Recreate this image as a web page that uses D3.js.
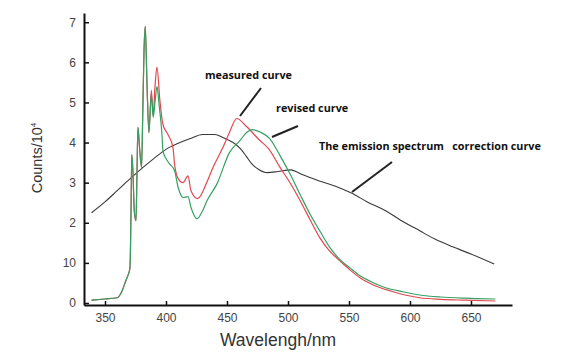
<!DOCTYPE html>
<html><head><meta charset="utf-8">
<script src="https://cdn.jsdelivr.net/npm/d3@7"></script>
<style>body{margin:0;background:#fff}svg{display:block}</style>
</head><body><svg id="c" width="572" height="358"></svg>
<script>
// Data (wavelength nm, counts/10^4)
const correctionWl = [339,350,360,370,380,390,400,410,420,430,440,447,455,461,466,470,476,483,492,502,512,525,540,552,565,580,592,608,620,635,650,669];
const correctionV  = [2.25,2.52,2.8,3.08,3.35,3.6,3.83,3.98,4.1,4.2,4.2,4.12,4.0,3.85,3.65,3.48,3.33,3.25,3.28,3.32,3.2,3.05,2.9,2.74,2.52,2.3,2.07,1.8,1.6,1.4,1.22,0.97];

const revisedWl = [339,350,360,364,367,369,370.5,371.3,372,373,374,375.4,376.2,377,378.5,380,381,382,383,384.5,386,388,389.5,391,392.6,394.5,396.7,397.5,400,403,407,410,414,418,420.5,425.4,430,433.6,441.8,452,460.6,466,471,478,485,493,501.6,510,518,526,534.4,542,551,559,567,580,594,608,625,645,670];
const revisedV  = [0.07,0.1,0.13,0.3,0.55,0.7,0.88,2.2,3.7,3.2,2.3,2.05,3.2,4.38,3.8,3.38,4.8,6.3,6.9,5.4,4.25,5.2,4.63,5.0,5.4,4.9,4.2,3.8,3.6,3.47,3.3,2.88,2.63,2.65,2.38,2.1,2.3,2.55,2.97,3.75,4.05,4.25,4.32,4.25,4.1,3.7,3.22,2.7,2.22,1.8,1.38,1.1,0.87,0.68,0.55,0.38,0.28,0.2,0.15,0.12,0.1];

const measuredWl = [386,388,389.5,391,392.6,395,397.5,401.6,405.7,407,410,414,418,420.5,426,434,438.5,446.7,452,458,466,477,484,493.5,502,510,518,526,534,542.6,551,559,570,584,596,608,625,645,670];
const measuredV  = [4.25,5.3,4.68,5.4,5.88,5.05,4.45,4.2,3.88,3.47,3.1,3.0,3.17,2.8,2.6,3.05,3.38,3.88,4.25,4.6,4.4,4.05,3.85,3.38,2.98,2.55,2.08,1.63,1.3,1.05,0.82,0.63,0.45,0.3,0.2,0.13,0.09,0.07,0.05];

const xTicks = [350,400,450,500,550,600,650];
const yTicks = [0,1,2,3,4,5,6,7];
const yTickLabels = ["0","10","2","3","4","5","6","7"];

const annotations = [
  {text:"measured curve", x:205, y:79, line:[261,88,240,116]},
  {text:"revised curve", x:276, y:112, line:[298,126,272,137]},
  {text:"The emission spectrum   correction curve", x:319, y:150, line:[392,162,352,192]}
];

const svg = d3.select("#c");
const x = d3.scaleLinear().domain([332.8, 683.6]).range([84, 512]);
const y = d3.scaleLinear().domain([-0.05, 7.23]).range([305, 13]);

const line = d3.line().x(d=>x(d[0])).y(d=>y(d[1])).curve(d3.curveMonotoneX);
const zip = (a,b)=>a.map((v,i)=>[v,b[i]]);

svg.append("path").datum(zip(correctionWl,correctionV)).attr("d",line)
  .attr("fill","none").attr("stroke","#3a3a3a").attr("stroke-width",1.1);
// measured (red) shares the early part with revised
const nEarly = revisedWl.filter(w=>w<386).length;
const measuredFull = zip(revisedWl.slice(0,nEarly), revisedV.slice(0,nEarly)).concat(zip(measuredWl,measuredV));
svg.append("path").datum(measuredFull).attr("d",line)
  .attr("fill","none").attr("stroke","#e2474f").attr("stroke-width",1.2);
svg.append("path").datum(zip(revisedWl,revisedV)).attr("d",line)
  .attr("fill","none").attr("stroke","#35a063").attr("stroke-width",1.2);

// axes
const xAxis = d3.axisBottom(x).tickValues(xTicks).tickSizeInner(-4).tickSizeOuter(0).tickPadding(8);
const gx = svg.append("g").attr("transform","translate(0,305)").call(xAxis);
const yAxis = d3.axisLeft(y).tickValues(yTicks).tickFormat((d,i)=>yTickLabels[i]).tickSizeInner(-5).tickSizeOuter(0).tickPadding(8);
const gy = svg.append("g").attr("transform","translate(84,0)").call(yAxis);
[gx,gy].forEach(g=>{
  g.select(".domain").attr("stroke","#111").attr("stroke-width",2);
  g.selectAll(".tick line").attr("stroke","#111").attr("stroke-width",1.5);
  g.selectAll(".tick text").attr("fill","#444").attr("font-family","Liberation Sans, Arial, sans-serif").attr("font-size",12);
});

// axis titles
svg.append("text").attr("x",220).attr("y",346).attr("font-family","Liberation Sans, Arial, sans-serif")
  .attr("font-size",17.5).attr("fill","#333").text("Wavelengh/nm");
const yt = svg.append("text").attr("transform","translate(42,158) rotate(-90)").attr("text-anchor","middle")
  .attr("font-family","Liberation Sans, Arial, sans-serif").attr("font-size",14.5).attr("fill","#333");
yt.append("tspan").text("Counts/10");
yt.append("tspan").attr("font-size",8).attr("dy",-6).text("4");

// annotations
annotations.forEach(a=>{
  svg.append("text").attr("x",a.x).attr("y",a.y).attr("font-family","Open Sans, sans-serif")
    .attr("font-weight","bold").attr("font-size",10.8).attr("fill","#111")
    .style("white-space","pre").text(a.text);
  svg.append("line").attr("x1",a.line[0]).attr("y1",a.line[1]).attr("x2",a.line[2]).attr("y2",a.line[3])
    .attr("stroke","#222").attr("stroke-width",2);
});
</script></body></html>
